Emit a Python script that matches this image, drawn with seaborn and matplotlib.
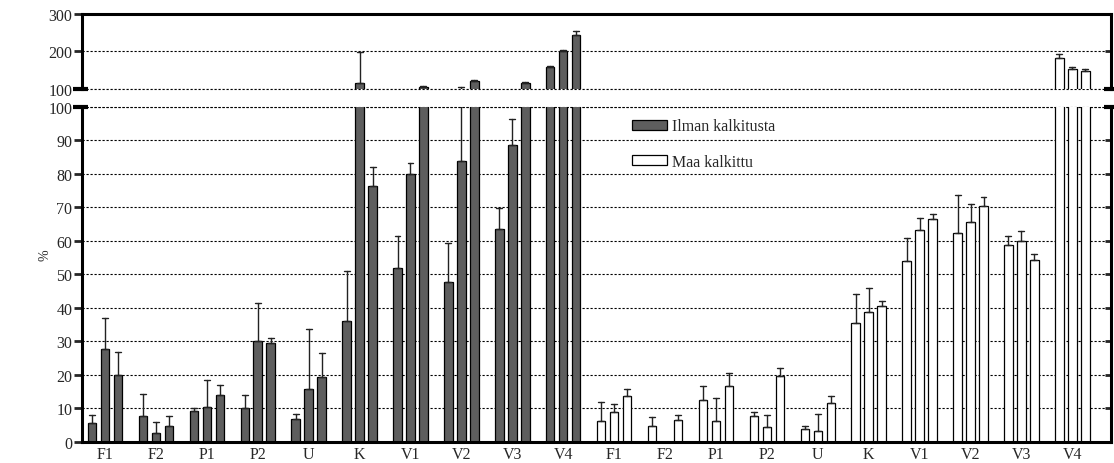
import matplotlib
matplotlib.use("Agg")
import matplotlib.pyplot as plt
from matplotlib.patches import Patch
import seaborn as sns
import pandas as pd

# categories, repeated for the two soil treatments
categories = ["F1", "F2", "P1", "P2", "U", "K", "V1", "V2", "V3", "V4"]
reps = ["1", "2", "3"]

# Ilman kalkitusta (not limed): bar heights and upper error lengths
ilman_1 = [5.7, 7.8, 9.3, 10.0, 6.9, 36.2, 51.8, 47.8, 63.5, 158]
ilman_2 = [27.7, 2.7, 10.5, 30.1, 15.9, 114.8, 79.9, 83.7, 88.7, 201]
ilman_3 = [19.9, 4.8, 14.0, 29.4, 19.5, 76.3, 103.2, 119.4, 114, 245]
ilman_1_err = [2.5, 6.6, 0.8, 4.0, 1.4, 14.7, 9.7, 11.5, 6.2, 1.5]
ilman_2_err = [9.4, 3.2, 8.0, 11.5, 17.8, 82.8, 3.4, 19.3, 7.6, 3.6]
ilman_3_err = [7.0, 3.1, 2.9, 1.5, 7.0, 5.8, 2.5, 2.6, 4.0, 11]

# Maa kalkittu (limed)
kalkittu_1 = [6.3, 4.8, 12.4, 7.8, 3.8, 35.6, 54.1, 62.2, 58.7, 181.4]
kalkittu_2 = [8.9, 0.0, 6.2, 4.6, 3.4, 38.9, 63.3, 65.5, 60.0, 152.6]
kalkittu_3 = [13.8, 6.5, 16.8, 19.8, 11.6, 40.6, 66.5, 70.3, 54.3, 147]
kalkittu_1_err = [5.7, 2.8, 4.3, 1.0, 0.9, 8.6, 6.8, 11.6, 2.8, 10.6]
kalkittu_2_err = [2.4, 0.0, 7.0, 3.4, 4.9, 6.9, 3.4, 5.5, 2.8, 4.4]
kalkittu_3_err = [2.0, 1.5, 3.7, 2.3, 2.0, 1.4, 1.4, 2.9, 1.9, 6.0]

DARK = "#5e5e5e"
FONT = 11.5
GRID = dict(linestyle=(0, (2, 1.6)), color="black", linewidth=0.8)


def long_table(series, errors, offset):
    # two rows per bar: the value and value + error, so that the bar is the
    # min and the error bar spans min..max
    rows = []
    for rep, vals, errs in zip(reps, series, errors):
        for i, (v, e) in enumerate(zip(vals, errs)):
            rows.append({"pos": i + offset, "rep": rep, "value": v})
            rows.append({"pos": i + offset, "rep": rep, "value": v + e})
    return pd.DataFrame(rows)


ilman_df = long_table([ilman_1, ilman_2, ilman_3],
                      [ilman_1_err, ilman_2_err, ilman_3_err], 0)
kalkittu_df = long_table([kalkittu_1, kalkittu_2, kalkittu_3],
                         [kalkittu_1_err, kalkittu_2_err, kalkittu_3_err], len(categories))


def draw_bars(ax):
    for df, color in ((ilman_df, DARK), (kalkittu_df, "white")):
        sns.barplot(data=df, x="pos", y="value", hue="rep", native_scale=True,
                    estimator="min", errorbar=lambda v: (v.min(), v.max()),
                    palette={r: color for r in reps}, saturation=1,
                    width=0.765, gap=0.345, edgecolor="black", linewidth=0.9,
                    capsize=0.35, err_kws={"color": "#222222", "linewidth": 1.0},
                    legend=False, ax=ax)
    ax.set_xlim(-0.452, 19.75)
    ax.set_xlabel("")
    ax.set_ylabel("")
    ax.yaxis.grid(True, **GRID)
    ax.xaxis.grid(False)
    ax.set_axisbelow(True)
    for side in ("left", "right", "top", "bottom"):
        ax.spines[side].set_linewidth(2.2)
        ax.spines[side].set_color("black")
    ax.tick_params(axis="y", which="major", direction="out", length=6, width=2,
                   labelsize=FONT, pad=1, right=True)


sns.set_theme(style="ticks")
plt.rcParams["font.family"] = ["Liberation Serif", "DejaVu Serif"]

fig = plt.figure(figsize=(11.14, 4.64), dpi=100)
ax_top = fig.add_axes([0.0736, 0.8059, 0.9233, 0.1611])
ax_bot = fig.add_axes([0.0736, 0.04526, 0.9233, 0.7226])

draw_bars(ax_top)
draw_bars(ax_bot)

# upper panel: 100..300
ax_top.set_ylim(98.5, 300)
ax_top.set_yticks([100, 200, 300])
ax_top.spines["bottom"].set_visible(False)
ax_top.tick_params(axis="x", bottom=False, labelbottom=False)
ax_top.axhline(100, zorder=0.5, clip_on=False, **GRID)

# lower panel: 0..100
ax_bot.set_ylim(0, 100)
ax_bot.set_yticks(range(0, 101, 10))
ax_bot.spines["top"].set_visible(False)
ax_bot.set_xticks(range(2 * len(categories)))
ax_bot.set_xticklabels(categories * 2, fontsize=FONT)
ax_bot.tick_params(axis="x", length=0, pad=3)
ax_bot.axhline(100, zorder=0.5, clip_on=False, **GRID)

# right spine ticks point inwards
for ax in (ax_top, ax_bot):
    for t in ax.yaxis.get_major_ticks():
        t.tick2line.set_marker(matplotlib.lines.TICKLEFT)
        t.tick2line.set_markersize(4)

# axis break marks
for ax in (ax_top, ax_bot):
    tr = matplotlib.transforms.blended_transform_factory(ax.transAxes, ax.transData)
    ax.plot([-0.009, 0.006], [100, 100], transform=tr, color="black",
            linewidth=3, clip_on=False, solid_capstyle="butt")
    ax.plot([0.994, 1.003], [100, 100], transform=tr, color="black",
            linewidth=3, clip_on=False, solid_capstyle="butt")

handles = [Patch(facecolor=DARK, edgecolor="black", linewidth=0.9),
           Patch(facecolor="white", edgecolor="black", linewidth=0.9)]
ax_bot.legend(handles, ["Ilman kalkitusta", "Maa kalkittu"], loc="upper left",
              bbox_to_anchor=(0.535, 0.965), frameon=False, fontsize=11.5,
              handlelength=2.2, handleheight=0.6, handletextpad=0.3,
              labelspacing=1.2, borderpad=0, borderaxespad=0)

fig.text(45 / 1114, 1 - 255 / 464, "%", rotation=90, fontsize=10,
         ha="center", va="center")

fig.savefig("out.png", dpi=100)
plt.close(fig)
